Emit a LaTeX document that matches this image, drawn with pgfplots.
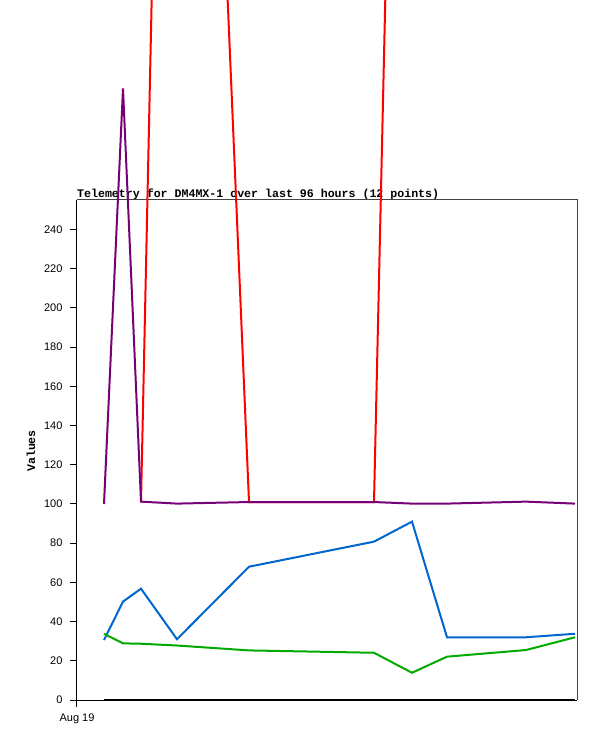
\documentclass[border=0pt]{standalone}
\usepackage{pgfplots}
\pgfplotsset{compat=1.18}
\usepackage{fontspec}
\setmainfont{Liberation Sans}
\newfontfamily\mono{Liberation Mono}
\definecolor{cblue}{HTML}{0066CC}
\definecolor{cgreen}{HTML}{00AA00}
\definecolor{cpurple}{HTML}{770077}
\definecolor{cred}{HTML}{FF0000}
\definecolor{cframe}{HTML}{444444}
\begin{document}
\begin{tikzpicture}
\begin{axis}[
  name=ax,
  scale only axis, width=500pt, height=500pt,
  xmin=0, xmax=500, ymin=0, ymax=255.1,
  clip=false,
  axis line style={draw=none},
  ytick={0,20,...,240},
  xtick={0}, xticklabels={Aug 19},
  tick pos=left, tick align=outside, major tick length=7pt,
  tick style={black, line width=1pt},
  ticklabel style={font=\fontsize{11}{13}\selectfont},
  yticklabel style={xshift=-4pt},
  xticklabel style={yshift=-3pt},
  /pgf/number format/assume math mode=true,
  every axis plot/.append style={line width=2pt, line join=miter},
]
\node[anchor=base west, inner sep=0pt, font=\mono\bfseries\fontsize{11.6}{13}\selectfont]
  at (rel axis cs:0,1) [yshift=2.7pt] {Telemetry for DM4MX-1 over last 96 hours (12 points)};
\node[xshift=-46pt, yshift=-1pt, rotate=90, inner sep=0pt, font=\mono\bfseries\fontsize{11.6}{13}\selectfont]
  at (rel axis cs:0,0.5) {Values};
\draw[cframe, line width=1pt] (rel axis cs:0,1) -- (rel axis cs:1,1) -- (rel axis cs:1,0);
\draw[black, line width=1pt] (rel axis cs:0,1) -- (rel axis cs:0,0) -- (rel axis cs:1,0);
% red
\addplot[cred] coordinates {(64,101) (100,965) (172,101) (297,101) (335,965) (370,965) (449,965) (498,965)};
% purple
\addplot[cpurple] coordinates {(27,100) (46,312) (64,101.2) (100,100.2) (172,101) (297,101) (335,100.2) (370,100.2) (449,101.2) (498,100.2)};
% blue
\addplot[cblue] coordinates {(27,30.6) (46,50.2) (64,56.8) (100,31.0) (172,68.0) (297,80.8) (335,91.0) (370,32.0) (449,32.0) (498,33.8)};
% green
\addplot[cgreen] coordinates {(27,33.8) (46,28.9) (64,28.7) (100,27.8) (172,25.3) (297,24.1) (335,13.9) (370,22.1) (449,25.5) (498,32.0)};
% black
\addplot[black] coordinates {(27,0) (46,0) (64,0) (100,0) (172,0) (297,0) (335,0) (370,0) (449,0) (498,0)};
\end{axis}
\pgfresetboundingbox
\path ([xshift=-77pt,yshift=-41pt]ax.south west) rectangle ([xshift=20pt,yshift=200pt]ax.north east);
\end{tikzpicture}
\end{document}
